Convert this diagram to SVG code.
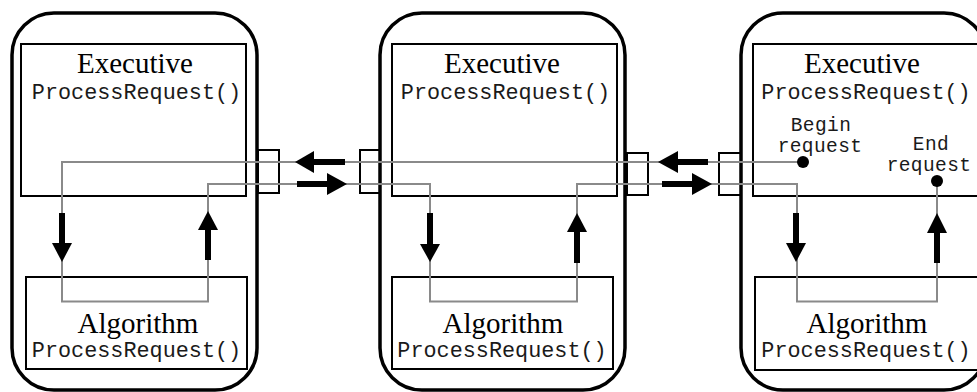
<svg xmlns="http://www.w3.org/2000/svg" width="977" height="392" viewBox="0 0 977 392">
<defs>
<style>
.panel{fill:none;stroke:#000;stroke-width:3.5}
.box{fill:none;stroke:#000;stroke-width:2}
.port{fill:none;stroke:#000;stroke-width:2}
.wire{fill:none;stroke:#8a8a8a;stroke-width:2}
.stem{stroke:#000;stroke-width:6;fill:none}
.head{fill:#000}
.title{font-family:"Liberation Serif","Times New Roman",serif;font-size:29px;fill:#000;text-anchor:middle}
.code{font-family:"Liberation Mono","Courier New",monospace;font-size:21.8px;fill:#1a1a1a;text-anchor:middle}
.label{font-family:"Liberation Mono","Courier New",monospace;font-size:19.5px;fill:#1a1a1a;text-anchor:middle;letter-spacing:0.4px}
</style>
</defs>
<rect width="977" height="392" fill="#fff"/>

<g id="panel-left">
<rect class="panel" x="12" y="13" width="245" height="377" rx="42" ry="42"/>
</g>
<g id="panel-middle">
<rect class="panel" x="380" y="13" width="245" height="377" rx="42" ry="42"/>
</g>
<g id="panel-right">
<rect class="panel" x="741" y="13" width="245" height="377" rx="42" ry="42"/>
</g>

<g id="exec-left">
<rect class="box" x="21" y="44" width="225" height="152"/>
<text class="title" x="135" y="73">Executive</text>
<text class="code" x="136.5" y="99">ProcessRequest()</text>
</g>
<g id="algo-left">
<rect class="box" x="26" y="277" width="221" height="92"/>
<text class="title" x="138" y="333">Algorithm</text>
<text class="code" x="136.5" y="357">ProcessRequest()</text>
</g>

<g id="exec-middle">
<rect class="box" x="392" y="44" width="225" height="152"/>
<text class="title" x="502" y="73">Executive</text>
<text class="code" x="505.5" y="99">ProcessRequest()</text>
</g>
<g id="algo-middle">
<rect class="box" x="392" y="277" width="221" height="92"/>
<text class="title" x="503" y="333">Algorithm</text>
<text class="code" x="502" y="357">ProcessRequest()</text>
</g>

<g id="exec-right">
<rect class="box" x="753" y="44" width="240" height="152"/>
<text class="title" x="862" y="73">Executive</text>
<text class="code" x="866" y="99">ProcessRequest()</text>
<text class="label" x="821" y="131">Begin</text>
<text class="label" x="820" y="152">request</text>
<text class="label" x="931" y="150">End</text>
<text class="label" x="929" y="171">request</text>
</g>
<g id="algo-right">
<rect class="box" x="755" y="277" width="240" height="93"/>
<text class="title" x="867" y="333">Algorithm</text>
<text class="code" x="866" y="357">ProcessRequest()</text>
</g>

<g id="ports">
<rect class="port" x="258" y="150" width="21" height="43"/>
<rect class="port" x="360" y="150" width="20" height="43"/>
<rect class="port" x="627" y="153" width="21" height="42"/>
<rect class="port" x="719" y="153" width="22" height="42"/>
</g>

<g id="connectors">
<path class="wire" d="M803,162 H62 V301.5 H208 V184 H430 V301.5 H577 V184 H797 V301.5 H937 V181"/>
<circle cx="803" cy="162" r="6" fill="#000"/>
<circle cx="937" cy="181" r="6" fill="#000"/>

<line class="stem" x1="312" y1="162" x2="345" y2="162"/>
<polygon class="head" points="295,162 314,151 314,173"/>
<line class="stem" x1="297" y1="184" x2="329" y2="184"/>
<polygon class="head" points="347,184 327,173 327,195"/>

<line class="stem" x1="676" y1="162" x2="708" y2="162"/>
<polygon class="head" points="658,162 678,151 678,173"/>
<line class="stem" x1="662" y1="184" x2="694" y2="184"/>
<polygon class="head" points="712,184 692,173 692,195"/>

<line class="stem" x1="62" y1="213" x2="62" y2="245"/>
<polygon class="head" points="62,262 52,243 72,243"/>
<line class="stem" x1="208" y1="228" x2="208" y2="260"/>
<polygon class="head" points="208,211 198,230 218,230"/>

<line class="stem" x1="430" y1="213" x2="430" y2="246"/>
<polygon class="head" points="430,262 420,244 440,244"/>
<line class="stem" x1="577" y1="230" x2="577" y2="263"/>
<polygon class="head" points="577,213 567,232 587,232"/>

<line class="stem" x1="796" y1="213" x2="796" y2="245"/>
<polygon class="head" points="796,262 786,243 806,243"/>
<line class="stem" x1="937" y1="231" x2="937" y2="263"/>
<polygon class="head" points="937,213 927,233 947,233"/>
</g>
</svg>
